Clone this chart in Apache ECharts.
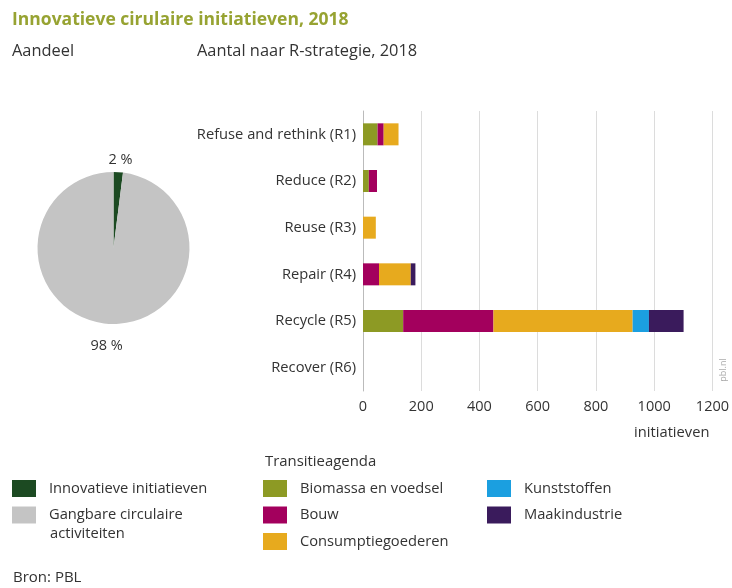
<!DOCTYPE html>
<html>
<head>
<meta charset="utf-8">
<script src="https://cdn.jsdelivr.net/npm/echarts@6/dist/echarts.min.js"></script>
<style>html,body{margin:0;padding:0;background:#fff}#c{width:732px;height:588px}</style>
</head>
<body>
<div id="c"></div>
<script>
const categories = ['Refuse and rethink (R1)', 'Reduce (R2)', 'Reuse (R3)', 'Repair (R4)', 'Recycle (R5)', 'Recover (R6)'];
const biomassa = [50, 20, 0, 0, 138, 0];
const bouw = [21, 28, 0, 55, 310, 0];
const consumptie = [51, 0, 44, 109, 478, 0];
const kunststoffen = [0, 0, 0, 0, 56, 0];
const maakindustrie = [0, 0, 0, 16, 119, 0];
const pieNames = ['Innovatieve initiatieven', 'Gangbare circulaire activiteiten'];
const pieValues = [2, 98];
const xTicks = [0, 200, 400, 600, 800, 1000, 1200];

const FONT = '"Open Sans", "Noto Sans", sans-serif';
const TXT = '#333';
const colors = {
  inno: '#1c4a22', gang: '#c4c4c4',
  bio: '#8d9a24', bouw: '#a3005d', cons: '#e7aa1e', kunst: '#1b9fe0', maak: '#3a1b5c'
};

const chart = echarts.init(document.getElementById('c'), null, {renderer: 'canvas'});

function barSeries(name, data, color) {
  return {
    name: name, type: 'bar', stack: 'r', data: data, barWidth: 22,
    itemStyle: {color: color}, xAxisIndex: 0, yAxisIndex: 0,
    emphasis: {disabled: true}
  };
}
const legendText = {color: TXT, fontSize: 14.7, fontFamily: FONT, padding: [0, 0, 0, 8]};

const option = {
  animation: false,
  textStyle: {fontFamily: FONT},
  graphic: [
    {type: 'text', left: 12, top: 11, style: {text: 'Innovatieve cirulaire initiatieven, 2018', fill: '#97a332', font: 'bold 17.5px ' + FONT}},
    {type: 'text', left: 12, top: 43, style: {text: 'Aandeel', fill: TXT, font: '16.4px ' + FONT}},
    {type: 'text', left: 197, top: 43, style: {text: 'Aantal naar R-strategie, 2018', fill: TXT, font: '16.4px ' + FONT}},
    {type: 'text', left: 50, top: 526, style: {text: 'activiteiten', fill: TXT, font: '14.7px ' + FONT}},
    {type: 'text', left: 265, top: 454, style: {text: 'Transitieagenda', fill: TXT, font: '14.9px ' + FONT}},
    {type: 'text', left: 13, top: 570, style: {text: 'Bron: PBL', fill: TXT, font: '15px ' + FONT}},
    {type: 'text', x: 150, y: 298, rotation: Math.PI / 4, style: {text: 'pbl.nl', fill: '#ffffff', font: '10px ' + FONT, align: 'center', verticalAlign: 'middle'}},
    {type: 'text', x: 723, y: 370, rotation: Math.PI / 2, style: {text: 'pbl.nl', fill: '#aaaaaa', font: '9px ' + FONT, align: 'center', verticalAlign: 'middle'}}
  ],
  legend: [
    {
      data: pieNames, orient: 'vertical', left: 12, top: 480, padding: 0,
      itemWidth: 24, itemHeight: 17, itemGap: 9.5, icon: 'rect',
      selectedMode: false,
      formatter: function (n) { return n === pieNames[1] ? 'Gangbare circulaire' : n; },
      textStyle: legendText
    },
    {
      data: ['Biomassa en voedsel', 'Bouw', 'Consumptiegoederen'], orient: 'vertical', left: 263, top: 480, padding: 0,
      itemWidth: 24, itemHeight: 17, itemGap: 9.5, icon: 'rect', selectedMode: false,
      textStyle: legendText
    },
    {
      data: ['Kunststoffen', 'Maakindustrie'], orient: 'vertical', left: 487, top: 480, padding: 0,
      itemWidth: 24, itemHeight: 17, itemGap: 9.5, icon: 'rect', selectedMode: false,
      textStyle: legendText
    }
  ],
  grid: {left: 363, right: 15, top: 111, height: 280, containLabel: false},
  xAxis: {
    type: 'value', min: 0, max: 1200, interval: 200,
    name: 'initiatieven', nameLocation: 'end', nameGap: -3,
    nameTextStyle: {color: TXT, fontSize: 14.7, fontFamily: FONT, align: 'right', verticalAlign: 'top', padding: [34, 0, 0, 0]},
    axisLine: {show: false}, axisTick: {show: false},
    axisLabel: {color: TXT, fontSize: 14.5, fontFamily: FONT, margin: 8,
      formatter: function (v) { return xTicks.indexOf(v) >= 0 ? String(v) : ''; }},
    splitLine: {show: true, lineStyle: {color: '#dcdcdc', width: 1}}
  },
  yAxis: {
    type: 'category', data: categories, inverse: true,
    axisLine: {show: true, lineStyle: {color: '#bbbbbb'}}, axisTick: {show: false},
    axisLabel: {color: TXT, fontSize: 14.7, fontFamily: FONT, margin: 7}
  },
  series: [
    {
      type: 'pie', center: [113.5, 248], radius: 76, startAngle: 90, clockwise: true,
      data: pieNames.map(function (n, i) { return {name: n, value: pieValues[i]}; }),
      color: [colors.inno, colors.gang],
      label: {show: true, position: 'outside', formatter: '{c} %', color: TXT, fontSize: 14.5, fontFamily: FONT},
      labelLine: {show: false, length: 2, length2: 0},
      labelLayout: function (p) {
        return p.dataIndex === 0
          ? {align: 'center', verticalAlign: 'bottom', dy: -3, dx: -3}
          : {align: 'center', verticalAlign: 'top', dy: 13, dx: 3};
      },
      emphasis: {disabled: true}, silent: true
    },
    barSeries('Biomassa en voedsel', biomassa, colors.bio),
    barSeries('Bouw', bouw, colors.bouw),
    barSeries('Consumptiegoederen', consumptie, colors.cons),
    barSeries('Kunststoffen', kunststoffen, colors.kunst),
    barSeries('Maakindustrie', maakindustrie, colors.maak)
  ]
};
chart.setOption(option);
</script>
</body>
</html>
